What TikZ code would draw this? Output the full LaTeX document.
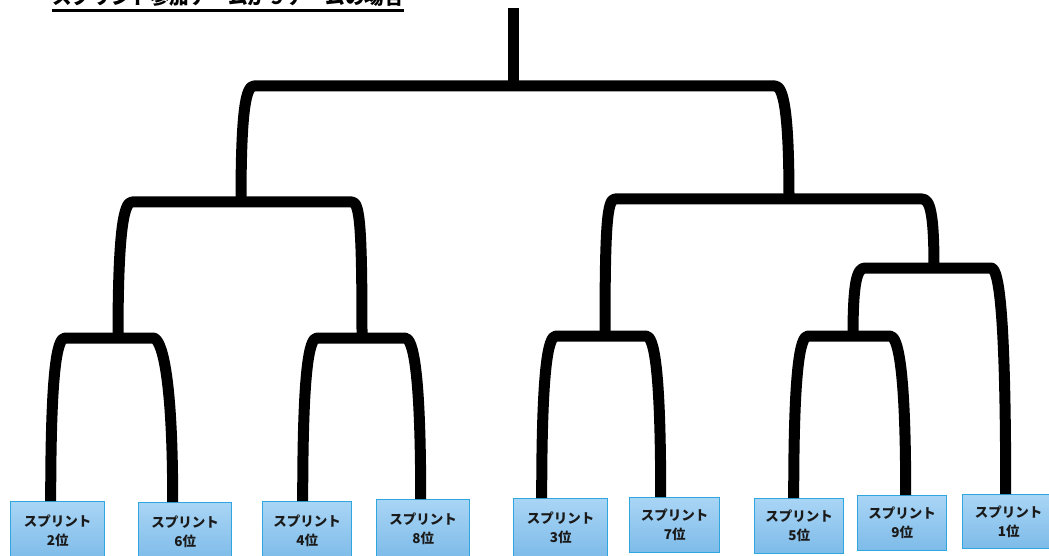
\documentclass[tikz,border=0pt]{standalone}
\usepackage{fontspec}
\newfontfamily\jp{Noto Sans CJK JP}
\usetikzlibrary{calc}
\definecolor{boxedge}{HTML}{2FA6DE}
\definecolor{boxtop}{HTML}{A9D5F5}
\definecolor{boxbot}{HTML}{7DBBE9}
\definecolor{ink}{HTML}{1A1A1A}
\tikzset{
  bk/.style={line width=11pt, black, line join=round},
  team/.style={draw=boxedge, line width=1.4pt, top color=boxtop, bottom color=boxbot,
    anchor=north west, inner sep=0pt, align=center, text=ink,
    font=\jp\bfseries\fontsize{13.5}{19}\selectfont},
}
% one bracket: #1 lower end of left leg, #2 x of left corner, #3 y of bar,
% #4 x of right corner, #5 lower end of right leg; each leg bows into its corner
\newcommand\tie[5]{%
  \draw[bk] let \p1=#1, \p2=#5 in
    (\p1) .. controls (\x1, {0.2*\y1 - 0.8*#3pt}) and (#2pt, -#3pt) .. ({#2pt+8pt}, -#3pt)
    -- ({#4pt-8pt}, -#3pt)
    .. controls (#4pt, -#3pt) and (\x2, {0.2*\y2 - 0.8*#3pt}) .. (\p2);}
\begin{document}
\begin{tikzpicture}[x=1pt, y=-1pt]
\useasboundingbox (0,0) rectangle (1049,556);
\clip (0,0) rectangle (1049,556);
\fill[white] (0,0) rectangle (1049,556);

% title, set high so only its lower part shows
\node[inner sep=0pt, anchor=base west, font=\jp\bfseries\fontsize{19.6}{22}\selectfont]
  (title) at (52,5) {スプリント参加チームが９チームの場合};
\draw[line width=2.2pt] ([yshift=-5.5pt]title.base west) -- ([yshift=-5.5pt]title.base east);

% team boxes
\node[team, minimum width=94pt, minimum height=58pt] (b2) at (10,501) {スプリント\\2位};
\node[team, minimum width=93pt, minimum height=58pt] (b6) at (138,502) {スプリント\\6位};
\node[team, minimum width=89pt, minimum height=58pt] (b4) at (262,501) {スプリント\\4位};
\node[team, minimum width=93pt, minimum height=58pt] (b8) at (376,499) {スプリント\\8位};
\node[team, minimum width=94pt, minimum height=58pt] (b3) at (513,498) {スプリント\\3位};
\node[team, minimum width=90pt, minimum height=55pt] (b7) at (629,497) {スプリント\\7位};
\node[team, minimum width=89pt, minimum height=55pt] (b5) at (754,498) {スプリント\\5位};
\node[team, minimum width=89pt, minimum height=55pt] (b9) at (857,495) {スプリント\\9位};
\node[team, minimum width=92pt, minimum height=54pt] (b1) at (962,494) {スプリント\\1位};

% bar junctions (stem points)
\coordinate (j4a) at (118,338);
\coordinate (j4b) at (362,338);
\coordinate (j4c) at (605,336);
\coordinate (j4d) at (853,336);
\coordinate (j3)  at (934,268);
\coordinate (jL)  at (241,202);
\coordinate (jR)  at (789,199);
\coordinate (root) at (513,86);
\coordinate (top) at (513,8);

% first round
\tie{([xshift=-7pt]b2.north)}{57}{338}{161}{([xshift=-12.5pt]b6.north)}
\tie{([xshift=-4.5pt]b4.north)}{309}{338}{413}{([xshift=-2.5pt]b8.north)}
\tie{([xshift=-19pt]b3.north)}{548}{336}{654}{([xshift=-14pt]b7.north)}
\tie{([xshift=-5.5pt]b5.north)}{800}{336}{898}{([xshift=3.5pt]b9.north)}

% 9th seed play-in
\tie{(j4d)}{857}{268}{999}{([xshift=-3pt]b1.north)}

% second round
\tie{(j4a)}{124}{202}{360}{(j4b)}
\tie{(j4c)}{607}{199}{930}{(j3)}

% final
\tie{(jL)}{246}{86}{783}{(jR)}
\draw[line width=11pt] (root) -- (top);
\end{tikzpicture}
\end{document}
